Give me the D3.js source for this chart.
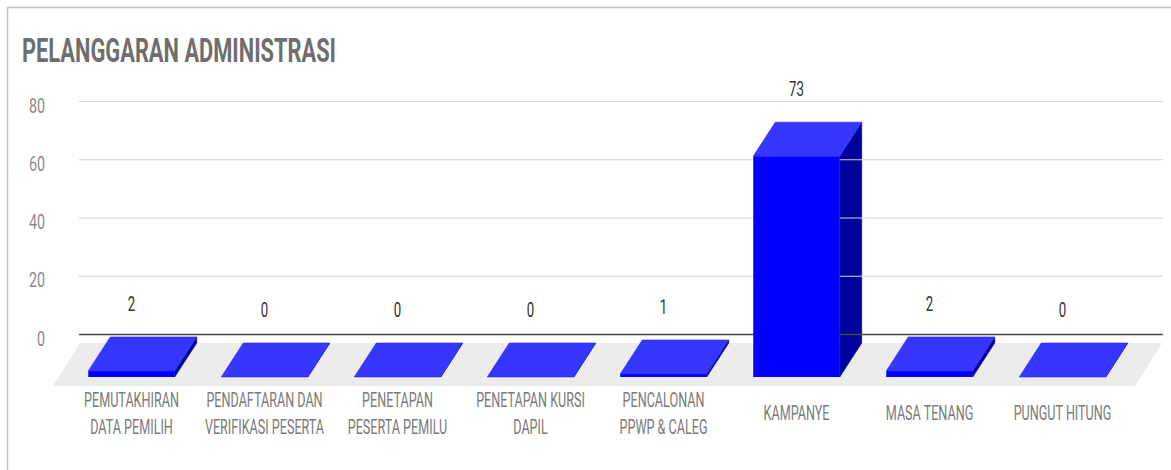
<!DOCTYPE html>
<html>
<head>
<meta charset="utf-8">
<script src="https://cdn.jsdelivr.net/npm/d3@7"></script>
<style>
  html, body { margin: 0; padding: 0; background: #fff; }
  svg { display: block; font-family: Roboto, "Noto Sans", sans-serif; }
</style>
</head>
<body>
<svg id="chart" width="1171" height="470"></svg>
<script>
// ---- data ----
const title = "PELANGGARAN ADMINISTRASI";
const categories = [
  ["PEMUTAKHIRAN", "DATA PEMILIH"],
  ["PENDAFTARAN DAN", "VERIFIKASI PESERTA"],
  ["PENETAPAN", "PESERTA PEMILU"],
  ["PENETAPAN KURSI", "DAPIL"],
  ["PENCALONAN", "PPWP & CALEG"],
  ["KAMPANYE"],
  ["MASA TENANG"],
  ["PUNGUT HITUNG"]
];
const values = [2, 0, 0, 0, 1, 73, 2, 0];
const yTicks = [0, 20, 40, 60, 80];

// ---- layout ----
const svg = d3.select("#chart");
const W = 1171, H = 470;
const SX = 0.63; // horizontal text condensation
const depthX = 22, depthY = 34;

const keys = categories.map((c, i) => i);
const x = d3.scaleBand().domain(keys).range([65, 1129]).paddingInner(0.35).paddingOuter(0.175);
// back-wall scale for gridlines
const y = d3.scaleLinear().domain([0, 80]).range([334, 101]);
// back-plane scale for bar tops (bars sit on the floor)
const yb = d3.scaleLinear().domain([0, 80]).range([343, 101]);

// frame
svg.append("line").attr("x1", 7).attr("x2", W).attr("y1", 7.5).attr("y2", 7.5)
  .attr("stroke", "#c4c4c4").attr("stroke-width", 1.5);
svg.append("line").attr("x1", 7.5).attr("x2", 7.5).attr("y1", 7).attr("y2", H)
  .attr("stroke", "#c4c4c4").attr("stroke-width", 1.5);

// title
svg.append("text").attr("x", 22).attr("y", 62)
  .attr("textLength", 314).attr("lengthAdjust", "spacingAndGlyphs")
  .attr("font-size", 33).attr("font-weight", 700).attr("fill", "#6e6e6e")
  .text(title);

// floor
const floorTop = yb(0), floorBot = 386;
const fx0 = 80, fx1 = 1162, fdx = 27;
svg.append("path")
  .attr("d", `M${fx0},${floorTop}L${fx1},${floorTop}L${fx1 - fdx},${floorBot}L${fx0 - fdx},${floorBot}Z`)
  .attr("fill", "#ececec");

// y labels
svg.append("g").selectAll("text").data(yTicks).join("text")
  .attr("transform", d => `translate(45,${y(d) + 6}) scale(0.68,1)`)
  .attr("text-anchor", "end").attr("dominant-baseline", "middle")
  .attr("font-size", 21).attr("fill", "#8a8a8a")
  .text(d => d);

// bar geometry helpers
const bx0 = i => x(i);
const bx1 = i => x(i) + x.bandwidth();
const frontTop = v => yb(v) + depthY;
const frontBot = yb(0) + depthY;

const bars = svg.append("g");
// side faces (behind gridlines)
bars.selectAll("path.side").data(values).join("path").attr("class", "side")
  .attr("d", (v, i) => {
    const r = bx1(i);
    return `M${r},${frontTop(v)}L${r + depthX},${yb(v)}L${r + depthX},${yb(0)}L${r},${frontBot}Z`;
  })
  .attr("fill", "#00009c").attr("stroke", "#00009c").attr("stroke-width", 0.6);

// gridlines
const grid = svg.append("g");
grid.selectAll("line").data(yTicks.filter(d => d > 0)).join("line")
  .attr("x1", 79).attr("x2", 1163)
  .attr("y1", d => y(d) + 0.5).attr("y2", d => y(d) + 0.5)
  .attr("stroke", "#d2d2d2").attr("stroke-width", 1.2);
svg.append("line").attr("x1", 79).attr("x2", 1163).attr("y1", y(0) + 0.5).attr("y2", y(0) + 0.5)
  .attr("stroke", "#444").attr("stroke-width", 1.4);

// front faces
const fronts = svg.append("g");
fronts.selectAll("rect").data(values).join("rect")
  .attr("x", (v, i) => bx0(i)).attr("width", x.bandwidth())
  .attr("y", v => frontTop(v)).attr("height", v => frontBot - frontTop(v))
  .attr("fill", "#0000ff");
// top faces
fronts.selectAll("path.top").data(values).join("path").attr("class", "top")
  .attr("d", (v, i) => {
    const l = bx0(i), r = bx1(i);
    return `M${l},${frontTop(v)}L${l + depthX},${yb(v)}L${r + depthX},${yb(v)}L${r},${frontTop(v)}Z`;
  })
  .attr("fill", "#3636ff").attr("stroke", "#2a2af0").attr("stroke-width", 0.6);

// value labels
svg.append("g").selectAll("text").data(values).join("text")
  .attr("transform", (v, i) => `translate(${bx0(i) + x.bandwidth() / 2},${yb(v) - 32}) scale(${SX},1)`)
  .attr("text-anchor", "middle").attr("dominant-baseline", "middle")
  .attr("font-size", 21).attr("fill", "#333")
  .text(v => v);

// category labels
const lineH = 27;
const labelCenter = 415;
const cat = svg.append("g").selectAll("g").data(categories).join("g")
  .attr("transform", (c, i) => `translate(${bx0(i) + x.bandwidth() / 2},${labelCenter - (c.length - 1) * lineH / 2}) scale(${SX},1)`);
cat.selectAll("text").data(c => c).join("text")
  .attr("y", (t, j) => j * lineH)
  .attr("text-anchor", "middle").attr("dominant-baseline", "middle")
  .attr("font-size", 20).attr("fill", "#7a7a7a")
  .text(t => t);
</script>
</body>
</html>
